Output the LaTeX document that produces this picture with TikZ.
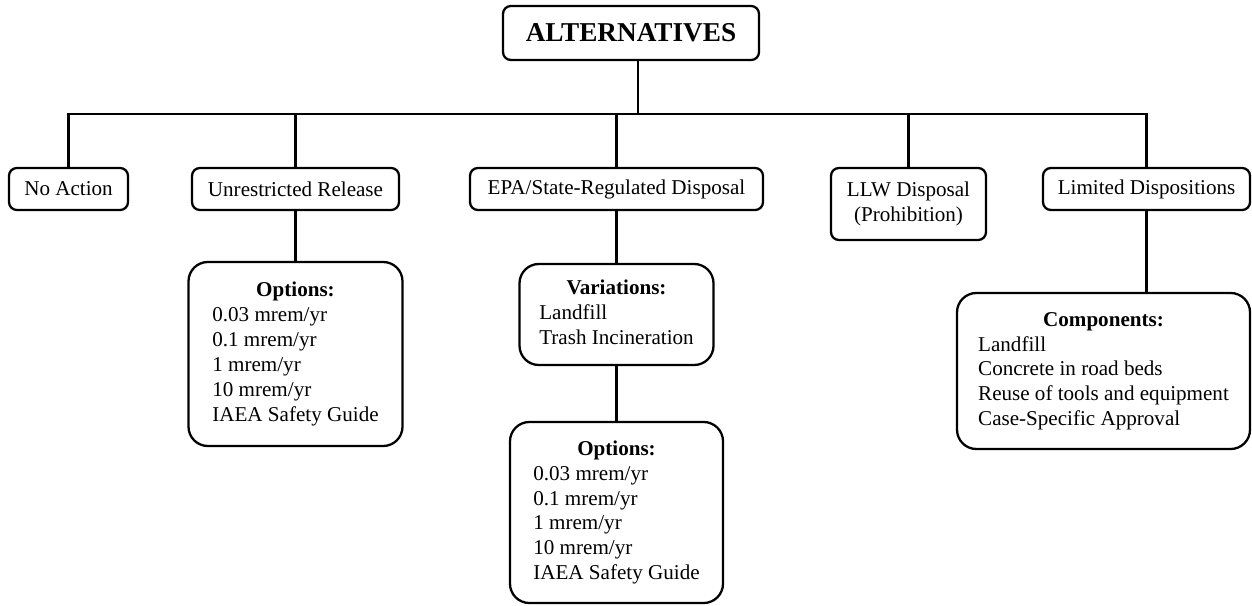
\documentclass[tikz,border=0pt]{standalone}
\usepackage{fontspec}
\setmainfont{Liberation Serif}
\usetikzlibrary{positioning}

\begin{document}
\begin{tikzpicture}[
  font=\fontsize{12}{14.2}\selectfont,
  box/.style={draw,line width=1.3pt,rounded corners=4.5pt,minimum height=0.84cm,inner sep=2pt,outer sep=0pt,align=center},
  lbox/.style={draw,line width=1.3pt,rounded corners=11pt,inner sep=2pt,outer sep=0pt},
  link/.style={line width=1.3pt}
]
\useasboundingbox (0,0) rectangle (25.04,-12.1);

% ---- root ----
\node[box,minimum width=5.12cm,minimum height=1.08cm,font=\fontsize{15.5}{18}\selectfont\bfseries] (alt) at (12.62,-0.66) {ALTERNATIVES};

% ---- alternatives row ----
\node[box,minimum width=2.38cm,anchor=north west] (noact) at (0.18,-3.36) {No Action};
\node[box,minimum width=4.14cm,right=1.28cm of noact.north east,anchor=north west] (unres) {Unrestricted Release};
\node[box,minimum width=5.86cm,right=1.42cm of unres.north east,anchor=north west] (epa) {EPA/State-Regulated Disposal};
\node[box,minimum width=3.1cm,minimum height=1.44cm,right=1.36cm of epa.north east,anchor=north west] (llw) {LLW Disposal\\(Prohibition)};
\node[box,minimum width=4.14cm,right=1.14cm of llw.north east,anchor=north west] (lim) {Limited Dispositions};

% ---- detail boxes ----
\node[lbox,minimum width=4.28cm,minimum height=3.68cm,below=1.04cm of unres] (opt1) {\begin{tabular}{@{}l@{}}
  \multicolumn{1}{@{}c@{}}{\textbf{Options:}}\\
  0.03 mrem/yr\\ 0.1 mrem/yr\\ 1 mrem/yr\\ 10 mrem/yr\\ IAEA Safety Guide
\end{tabular}};
\node[lbox,minimum width=3.88cm,minimum height=2.02cm,below=1.08cm of epa] (var) {\begin{tabular}{@{}l@{}}
  \multicolumn{1}{@{}c@{}}{\textbf{Variations:}}\\
  Landfill\\ Trash Incineration
\end{tabular}};
\node[lbox,minimum width=4.26cm,minimum height=3.62cm,below=1.14cm of var] (opt2) {\begin{tabular}{@{}l@{}}
  \multicolumn{1}{@{}c@{}}{\textbf{Options:}}\\
  0.03 mrem/yr\\ 0.1 mrem/yr\\ 1 mrem/yr\\ 10 mrem/yr\\ IAEA Safety Guide
\end{tabular}};
\node[lbox,minimum width=5.86cm,minimum height=3.12cm,below=1.66cm of lim,xshift=-0.86cm] (comp) {\begin{tabular}{@{}l@{}}
  \multicolumn{1}{@{}c@{}}{\textbf{Components:}}\\
  Landfill\\ Concrete in road beds\\ Reuse of tools and equipment\\ Case-Specific Approval
\end{tabular}};

% ---- connectors ----
\coordinate (bus) at (0,-2.28);
\draw[link] ([xshift=0.14cm]alt.south) -- ([xshift=0.14cm]alt.south |- bus);
\draw[link] (noact.north) |- (lim.north |- bus) -- (lim.north);
\foreach \n in {unres,epa,llw}
  \draw[link] (\n.north |- bus) -- (\n.north);
\draw[link] (unres.south) -- (opt1.north);
\draw[link] (epa.south) -- (var.north);
\draw[link] (var.south) -- (opt2.north);
\draw[link] (lim.south) -- (lim.south |- comp.north);
\end{tikzpicture}
\end{document}
